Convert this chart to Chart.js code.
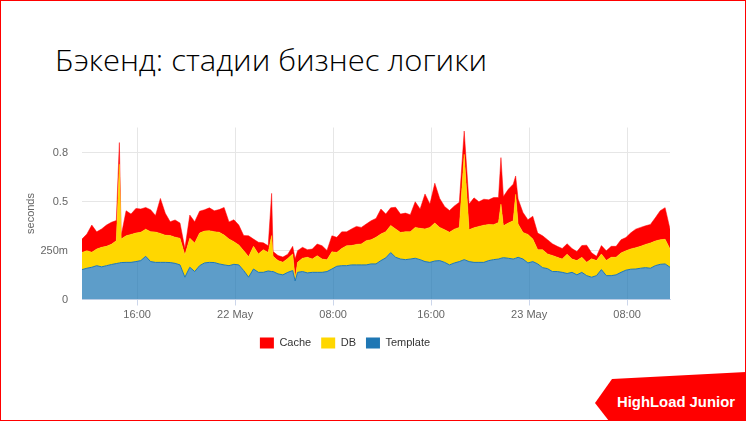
<!DOCTYPE html>
<html><head><meta charset="utf-8">
<script src="https://cdn.jsdelivr.net/npm/chart.js@4.4.1/dist/chart.umd.min.js"></script>
<style>
html,body{margin:0;padding:0;background:#fff;}
#slide{position:relative;width:746px;height:421px;overflow:hidden;background:#fff;}
#frame{position:absolute;left:0;top:0;width:744px;height:419px;border:1px solid #ff0000;pointer-events:none;}
#chart{position:absolute;left:0;top:100px;}
#deco{position:absolute;left:0;top:0;}
</style></head><body>
<div id="slide">
<svg id="deco" width="746" height="421">
  <text x="55" y="71" font-family="Open Sans, Noto Sans, sans-serif" font-weight="300" font-size="30" fill="#000" textLength="432" lengthAdjust="spacingAndGlyphs">Бэкенд: стадии бизнес логики</text>
  <polygon points="612,379 746,372 746,421 609,421 595,403" fill="#ff0000"/>
  <text x="617" y="406.5" font-family="Liberation Sans, Arial, sans-serif" font-weight="bold" font-size="14" fill="#ffffff" textLength="118" lengthAdjust="spacingAndGlyphs">HighLoad Junior</text>
</svg>
<canvas id="chart" width="746" height="265"></canvas>
<div id="frame"></div>
</div>
<script>
// hours since 00:00, 21 May
const times = [11.5,11.9,12.3,12.7,13.1,13.5,13.9,14.3,14.55,14.7,15.1,15.5,15.9,16.3,16.7,17.1,17.5,17.9,18.3,18.7,19.1,19.5,19.9,20.3,20.7,21.1,21.5,21.9,22.3,22.7,23.1,23.5,23.9,24.3,24.7,25.1,25.5,25.9,26.3,26.7,26.98,27.1,27.5,27.9,28.3,28.7,28.9,29.1,29.5,29.9,30.3,30.7,31.1,31.5,31.9,32.3,32.7,33.1,33.5,33.9,34.3,34.7,35.1,35.5,35.9,36.3,36.7,37.1,37.5,37.9,38.3,38.7,39.1,39.5,39.9,40.3,40.7,41.1,41.5,41.9,42.3,42.7,43.1,43.5,43.9,44.3,44.7,45.1,45.5,45.7,45.9,46.3,46.7,46.9,47.1,47.5,47.9,48.3,48.7,49.1,49.5,49.9,50.3,50.7,51.1,51.5,51.9,52.3,52.7,53.1,53.5,53.9,54.3,54.7,55.1,55.5,55.9,56.3,56.7,57.1,57.5,57.9,58.3,58.7,59.1,59.5];

const template = [.153,.160,.165,.173,.167,.173,.179,.184,.187,.189,.190,.190,.194,.199,.221,.194,.190,.190,.190,.189,.185,.177,.114,.165,.143,.173,.187,.190,.189,.182,.177,.173,.180,.177,.148,.114,.156,.139,.139,.146,.143,.143,.131,.126,.139,.148,.095,.139,.143,.136,.139,.139,.139,.143,.156,.170,.173,.173,.177,.177,.177,.177,.182,.182,.199,.213,.240,.216,.207,.204,.207,.211,.204,.194,.190,.197,.199,.190,.177,.187,.194,.204,.194,.190,.190,.190,.199,.204,.207,.211,.214,.211,.207,.211,.216,.207,.187,.194,.182,.163,.158,.143,.143,.139,.133,.139,.126,.139,.122,.114,.122,.153,.122,.122,.126,.139,.150,.155,.156,.160,.163,.160,.173,.180,.182,.165];

const db = [.088,.090,.077,.085,.100,.099,.104,.116,.505,.121,.136,.143,.146,.145,.139,.153,.155,.148,.139,.138,.134,.136,.114,.148,.146,.167,.163,.162,.158,.162,.153,.136,.116,.102,.102,.105,.116,.094,.116,.095,.184,.078,.068,.065,.071,.085,.014,.051,.068,.080,.068,.085,.068,.060,.088,.071,.088,.102,.099,.105,.107,.124,.124,.136,.136,.134,.139,.145,.136,.143,.139,.158,.160,.167,.179,.194,.170,.167,.167,.173,.175,.539,.163,.177,.184,.190,.185,.179,.187,.277,.163,.180,.196,.327,.170,.136,.146,.116,.073,.092,.075,.082,.073,.068,.099,.068,.073,.077,.068,.094,.077,.080,.078,.094,.090,.099,.099,.104,.109,.112,.119,.129,.126,.126,.126,.094];

const cache = [.068,.085,.139,.088,.094,.109,.112,.104,.111,.017,.128,.104,.126,.119,.111,.112,.085,.179,.112,.071,.088,.078,.034,.119,.109,.112,.109,.117,.107,.116,.141,.088,.112,.102,.077,.107,.037,.060,.035,.034,.216,.024,.026,.026,.022,.039,.099,.060,.056,.039,.051,.060,.068,.048,.082,.077,.085,.071,.085,.092,.085,.085,.097,.097,.128,.090,.090,.111,.094,.095,.088,.131,.099,.179,.119,.204,.148,.119,.111,.119,.128,.119,.131,.153,.126,.133,.126,.139,.128,.238,.150,.173,.187,.094,.128,.102,.075,.116,.085,.071,.073,.060,.056,.054,.053,.054,.046,.060,.088,.031,.022,.043,.049,.056,.056,.068,.068,.082,.095,.097,.095,.095,.119,.148,.162,.102];

const seriesNames = ['Template', 'DB', 'Cache'];
const xTickValues = [16, 24, 32, 40, 48, 56];
const xTickLabels = ['16:00', '22 May', '08:00', '16:00', '23 May', '08:00'];
const yTickValues = [0, 0.25, 0.5, 0.75];
const yTickLabels = ['0', '250m', '0.5', '0.8'];

const pts = arr => times.map((t, i) => ({x: t, y: arr[i]}));
const axisFont = {family: 'Liberation Sans, Arial, sans-serif', size: 11};

new Chart(document.getElementById('chart'), {
  type: 'line',
  data: {
    datasets: [
      {label: seriesNames[0], data: pts(template), backgroundColor: 'rgba(31,119,180,0.72)', borderColor: '#1f77b4', borderWidth: 1, fill: 'origin'},
      {label: seriesNames[1], data: pts(db), backgroundColor: '#ffd700', borderColor: '#ffd700', borderWidth: 0.5, fill: '-1'},
      {label: seriesNames[2], data: pts(cache), backgroundColor: '#ff0000', borderColor: '#ff0000', borderWidth: 0.5, fill: '-1'}
    ]
  },
  options: {
    responsive: false,
    animation: false,
    devicePixelRatio: 1,
    elements: {point: {radius: 0}, line: {tension: 0}},
    layout: {padding: {left: 20, right: 76, top: 27.5, bottom: 6.5}},
    plugins: {
      tooltip: {enabled: false},
      legend: {
        position: 'bottom',
        reverse: true,
        labels: {
          boxWidth: 14, boxHeight: 11, padding: 10, color: '#333333', font: axisFont,
          generateLabels: chart => Chart.defaults.plugins.legend.labels.generateLabels(chart).map(l => {
            const ds = chart.data.datasets[l.datasetIndex];
            l.fillStyle = ds.borderColor; l.strokeStyle = ds.borderColor; l.lineWidth = 0;
            return l;
          })
        }
      }
    },
    scales: {
      x: {
        type: 'linear', min: 11.5, max: 59.5,
        afterBuildTicks: s => { s.ticks = xTickValues.map(v => ({value: v})); },
        afterFit: s => { s.height = 28; },
        ticks: {
          autoSkip: false, maxRotation: 0, padding: 3, color: '#666666', font: axisFont,
          callback: v => { const i = xTickValues.indexOf(v); return i >= 0 ? xTickLabels[i] : ''; }
        },
        grid: {color: '#e6e6e6', tickColor: '#ccd6eb', tickLength: 6, drawTicks: true},
        border: {display: true, color: '#ccd6eb'}
      },
      y: {
        stacked: true, min: 0, max: 0.88,
        afterBuildTicks: s => { s.ticks = yTickValues.map(v => ({value: v})); },
        afterFit: s => { s.width = 62; },
        ticks: {
          padding: 14, color: '#666666', font: axisFont,
          callback: v => { const i = yTickValues.indexOf(v); return i >= 0 ? yTickLabels[i] : ''; }
        },
        grid: {drawTicks: false, color: c => (c.tick && c.tick.value === 0) ? '#ccd6eb' : '#e6e6e6'},
        border: {display: false},
        title: {display: true, text: 'seconds', color: '#666666', font: axisFont, padding: {top: 4, bottom: 4}}
      }
    }
  }
});
</script>
</body></html>
